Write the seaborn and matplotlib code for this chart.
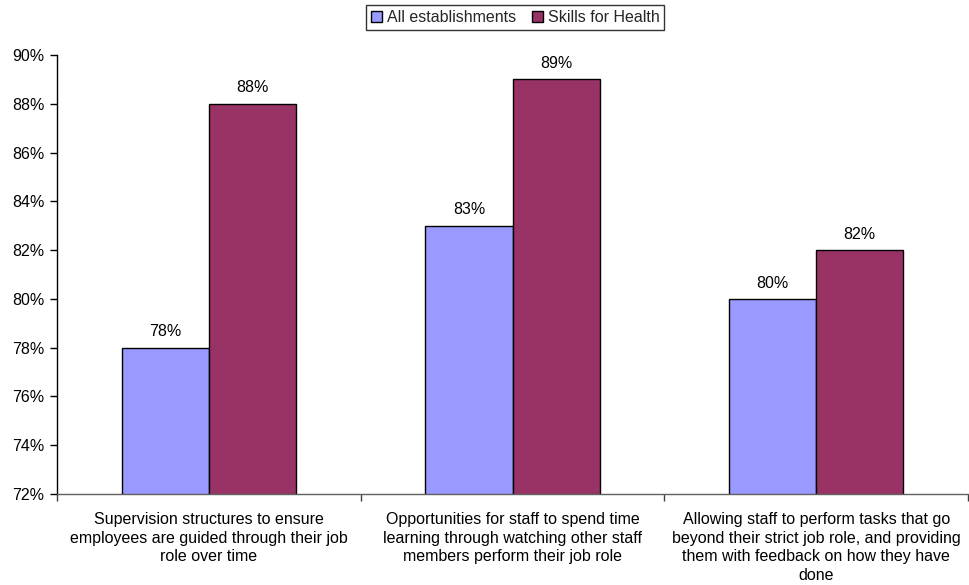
import matplotlib
matplotlib.use("Agg")
import matplotlib.pyplot as plt
import seaborn as sns
import pandas as pd
from matplotlib.ticker import FixedLocator, PercentFormatter

categories = [
    "Supervision structures to ensure\nemployees are guided through their job\nrole over time",
    "Opportunities for staff to spend time\nlearning through watching other staff\nmembers perform their job role",
    "Allowing staff to perform tasks that go\nbeyond their strict job role, and providing\nthem with feedback on how they have\ndone",
]
series_names = ["All establishments", "Skills for Health"]
all_establishments = [78, 83, 80]
skills_for_health = [88, 89, 82]
y_ticks = [72, 74, 76, 78, 80, 82, 84, 86, 88, 90]

df = pd.DataFrame({
    "category": categories * 2,
    "series": [series_names[0]] * 3 + [series_names[1]] * 3,
    "value": all_establishments + skills_for_health,
})

sns.set_theme(style="white")
plt.rcParams["font.family"] = ["Liberation Sans", "DejaVu Sans"]
FS = 11.5

fig = plt.figure(figsize=(9.69, 5.85), dpi=100)
ax = fig.add_axes([57 / 969, 1 - 494 / 585, 911 / 969, (494 - 55) / 585])

palette = {series_names[0]: "#9999FF", series_names[1]: "#993366"}
sns.barplot(data=df, x="category", y="value", hue="series", palette=palette,
            width=0.573, edgecolor="black", linewidth=1.0, saturation=1,
            ax=ax, legend=True)

ax.set_ylim(72, 90)
ax.set_xlim(-0.5, 2.5)
ax.yaxis.set_major_locator(FixedLocator(y_ticks))
ax.yaxis.set_major_formatter(PercentFormatter(decimals=0))
ax.set_xlabel("")
ax.set_ylabel("")

for cont in ax.containers:
    ax.bar_label(cont, labels=[f"{v:.0f}%" for v in cont.datavalues],
                 padding=6, fontsize=FS, color="black")

ax.set_xticks([0, 1, 2])
ax.set_xticklabels(categories, fontsize=FS, color="black", linespacing=1.3)
ax.tick_params(axis="x", which="major", length=0, pad=13)
ax.set_xticks([-0.5, 0.5, 1.5, 2.5], minor=True)
ax.tick_params(axis="x", which="minor", length=5, color="#404040", width=1, direction="out", bottom=True)
ax.tick_params(axis="y", length=5, color="black", width=1, direction="out", left=True,
               labelsize=FS, labelcolor="black", pad=4)

for s in ["top", "right"]:
    ax.spines[s].set_visible(False)
ax.spines["left"].set_color("black")
ax.spines["left"].set_linewidth(1)
ax.spines["bottom"].set_color("#606060")
ax.spines["bottom"].set_linewidth(1)

leg = ax.legend(loc="upper center", bbox_to_anchor=((515 - 57) / 911, 1 + 50 / 439),
                ncol=2, frameon=True, fontsize=FS, handlelength=0.7, handleheight=0.7,
                handletextpad=0.3, columnspacing=1.0, borderpad=0.3, fancybox=False,
                borderaxespad=0)
leg.get_frame().set_edgecolor("black")
leg.get_frame().set_linewidth(1)

fig.savefig("out.png", dpi=100)
